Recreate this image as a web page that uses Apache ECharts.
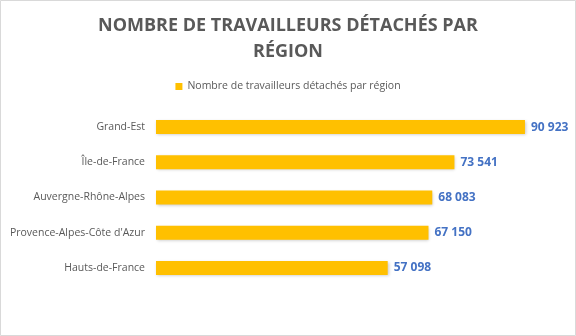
<!DOCTYPE html>
<html>
<head>
<meta charset="utf-8">
<script src="https://cdn.jsdelivr.net/npm/echarts@6/dist/echarts.min.js"></script>
<style>
  html, body { margin: 0; padding: 0; background: #fff; }
  #chart { width: 576px; height: 336px; }
</style>
</head>
<body>
<div id="chart"></div>
<script>
// Detached workers by region
const regions = ['Hauts-de-France', "Provence-Alpes-Côte d'Azur", 'Auvergne-Rhône-Alpes', 'Île-de-France', 'Grand-Est'];
const workers = [57098, 67150, 68083, 73541, 90923];
const seriesName = 'Nombre de travailleurs détachés par région';
const titleText = 'NOMBRE DE TRAVAILLEURS DÉTACHÉS PAR\nRÉGION';

const fmt = v => String(v).replace(/\B(?=(\d{3})+(?!\d))/g, ' ');

const chart = echarts.init(document.getElementById('chart'), null, { renderer: 'canvas' });
chart.setOption({
  animation: false,
  backgroundColor: '#ffffff',
  textStyle: { fontFamily: 'Open Sans' },
  graphic: [{
    type: 'rect',
    shape: { x: 0.5, y: 0.5, width: 575, height: 335 },
    style: { fill: 'none', stroke: '#d9d9d9', lineWidth: 1 },
    silent: true
  }],
  title: {
    text: titleText,
    left: 'center',
    top: 8,
    textStyle: {
      fontFamily: 'Open Sans',
      fontWeight: 'bold',
      fontSize: 18,
      lineHeight: 26,
      color: '#595959'
    }
  },
  legend: {
    data: [seriesName],
    top: 76,
    left: 'center',
    icon: 'rect',
    itemWidth: 7,
    itemHeight: 7,
    itemGap: 4,
    textStyle: { fontFamily: 'Open Sans', fontSize: 10.5, color: '#595959' }
  },
  grid: { left: 156, top: 109.5, width: 405.8, height: 176, containLabel: false },
  xAxis: {
    type: 'value',
    min: 0,
    max: 100000,
    show: false
  },
  yAxis: {
    type: 'category',
    data: regions,
    axisLine: { show: false },
    axisTick: { show: false },
    axisLabel: { fontFamily: 'Open Sans', fontSize: 10.5, color: '#595959', margin: 11 }
  },
  series: [{
    name: seriesName,
    type: 'bar',
    data: workers,
    barWidth: 14,
    itemStyle: {
      color: '#FFC000',
      shadowColor: 'rgba(0,0,0,0.22)',
      shadowBlur: 3,
      shadowOffsetX: 1,
      shadowOffsetY: 1
    },
    label: {
      show: true,
      position: 'right',
      distance: 6,
      formatter: p => fmt(p.value),
      fontFamily: 'Open Sans',
      fontSize: 12,
      fontWeight: 'bold',
      color: '#4472C4'
    }
  }]
});
</script>
</body>
</html>
